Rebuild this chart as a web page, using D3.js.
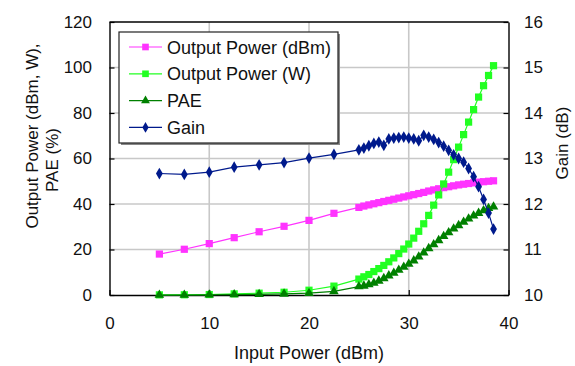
<!DOCTYPE html>
<html>
<head>
<meta charset="utf-8">
<script src="https://cdn.jsdelivr.net/npm/d3@7"></script>
<style>
  html, body { margin: 0; padding: 0; background: #fff; }
  svg { display: block; font-family: "Liberation Sans", Arial, Helvetica, sans-serif; }
</style>
</head>
<body>
<svg id="chart" width="575" height="366"></svg>
<script>
// Input drive levels (dBm)
const inputPower = [5, 7.5, 10, 12.5, 15, 17.5, 20, 22.5, 25,
  25.5, 26, 26.5, 27, 27.5, 28, 28.5, 29, 29.5, 30, 30.5, 31, 31.5, 32,
  32.5, 33, 33.5, 34, 34.5, 35, 35.5, 36, 36.5, 37, 37.5, 38, 38.5];

// Output power in dBm
const outputDbm = [18.0, 20.1, 22.6, 25.2, 27.8, 30.2, 32.8, 35.9, 38.5,
  39.1, 39.6, 40.1, 40.6, 41.1, 41.6, 42.1, 42.6, 43.1, 43.6, 44.1, 44.6, 45.1, 45.7,
  46.2, 46.7, 47.2, 47.6, 48.0, 48.4, 48.7, 49.0, 49.3, 49.6, 49.8, 50.0, 50.2];

// Output power in watts
const outputW = [0.06, 0.1, 0.2, 0.5, 0.8, 1.2, 2.1, 3.9, 7.0,
  8.0, 9.0, 10.3, 11.6, 13.0, 14.6, 16.3, 18.2, 20.2, 22.4, 25.0, 28.0, 31.3, 35.0,
  39.5, 44.0, 48.8, 54.0, 59.5, 65.0, 70.5, 76.0, 81.5, 87.0, 92.0, 96.5, 100.8];

// Power added efficiency (%)
const pae = [0.0, 0.0, 0.1, 0.2, 0.3, 0.5, 0.8, 1.6, 3.7,
  4.0, 4.6, 5.3, 6.2, 7.3, 8.5, 9.7, 11.0, 12.3, 13.6, 15.1, 16.8, 18.6, 20.5,
  22.2, 24.0, 25.8, 27.5, 29.1, 30.6, 32.1, 33.5, 34.8, 36.0, 37.1, 38.1, 38.8];

// Gain (dB), right axis
const gain = [12.67, 12.65, 12.70, 12.81, 12.86, 12.91, 13.01, 13.09, 13.19,
  13.23, 13.28, 13.33, 13.36, 13.29, 13.43, 13.45, 13.46, 13.47, 13.45, 13.43, 13.39, 13.51, 13.47,
  13.42, 13.35, 13.27, 13.18, 13.08, 13.00, 12.92, 12.78, 12.60, 12.38, 12.10, 11.80, 11.45];

const xTicks = [0, 10, 20, 30, 40];
const leftTicks = [0, 20, 40, 60, 80, 100, 120];
const rightTicks = [10, 11, 12, 13, 14, 15, 16];

const seriesNames = ["Output Power (dBm)", "Output Power (W)", "PAE", "Gain"];

const svg = d3.select("#chart");
const plot = { left: 109.5, right: 508.5, top: 22, bottom: 295 };
const W = plot.right - plot.left, H = plot.bottom - plot.top;

const x = d3.scaleLinear().domain([0, 40]).range([0, W]);
const yL = d3.scaleLinear().domain([0, 120]).range([H, 0]);
const yR = d3.scaleLinear().domain([10, 16]).range([H, 0]);

const g = svg.append("g").attr("transform", `translate(${plot.left},${plot.top})`);

// grid
const grid = g.append("g").attr("stroke", "#c8c8c8").attr("stroke-width", 1.6);
grid.selectAll("line.v").data(xTicks.slice(1, -1)).join("line")
  .attr("x1", d => x(d)).attr("x2", d => x(d)).attr("y1", 0).attr("y2", H);
grid.selectAll("line.h").data(leftTicks.slice(1, -1)).join("line")
  .attr("x1", 0).attr("x2", W).attr("y1", d => yL(d)).attr("y2", d => yL(d));

// axes
const fontSize = 17;
const ax = g.append("g").attr("transform", `translate(0,${H})`)
  .call(d3.axisBottom(x).tickValues(xTicks).tickSizeInner(-5).tickSizeOuter(0).tickPadding(22).tickFormat(d3.format("d")));
const al = g.append("g")
  .call(d3.axisLeft(yL).tickValues(leftTicks).tickSizeInner(-5).tickSizeOuter(0).tickPadding(17.5).tickFormat(d3.format("d")));
const ar = g.append("g").attr("transform", `translate(${W},0)`)
  .call(d3.axisRight(yR).tickValues(rightTicks).tickSizeInner(-5).tickSizeOuter(0).tickPadding(15.5).tickFormat(d3.format("d")));
[ax, al, ar].forEach(a => {
  a.selectAll("path.domain").attr("stroke", "#000").attr("stroke-width", 1.4);
  a.selectAll(".tick line").attr("stroke", "#000").attr("stroke-width", 1.2);
  a.selectAll(".tick text").attr("font-size", fontSize).attr("fill", "#111")
    .attr("font-family", "'Liberation Sans', Arial, sans-serif");
});
// top border of the plot frame
g.append("line").attr("x1", 0).attr("x2", W).attr("y1", 0).attr("y2", 0)
  .attr("stroke", "#000").attr("stroke-width", 1.4);

// series definitions
const colors = { dbm: "#ff33ff", w: "#22ff22", pae: "#008000", gain: "#001a8c" };
const series = [
  { key: "dbm", values: outputDbm, y: yL, color: colors.dbm, shape: d3.symbolSquare, size: 52 },
  { key: "w", values: outputW, y: yL, color: colors.w, shape: d3.symbolSquare, size: 52 },
  { key: "pae", values: pae, y: yL, color: colors.pae, shape: d3.symbolTriangle, size: 40 },
  { key: "gain", values: gain, y: yR, color: colors.gain, shape: d3.symbolDiamond, size: 40 }
];

series.forEach(s => {
  const pts = inputPower.map((xv, i) => [xv, s.values[i]]);
  const line = d3.line().x(d => x(d[0])).y(d => s.y(d[1]));
  const sg = g.append("g").attr("class", "series-" + s.key);
  sg.append("path").datum(pts).attr("d", line)
    .attr("fill", "none").attr("stroke", s.color).attr("stroke-width", 1.2);
  sg.selectAll("path.m").data(pts).join("path").attr("class", "m")
    .attr("transform", d => `translate(${x(d[0])},${s.y(d[1])})`)
    .attr("d", d3.symbol().type(s.shape).size(s.size))
    .attr("fill", s.color);
});

// legend
const lg = svg.append("g").attr("transform", "translate(119,32)");
const lw = 219, lh = 111;
lg.append("rect").attr("x", 2).attr("y", 2).attr("width", lw).attr("height", lh).attr("fill", "#888");
lg.append("rect").attr("x", 0).attr("y", 0).attr("width", lw).attr("height", lh)
  .attr("fill", "#fff").attr("stroke", "#222").attr("stroke-width", 1.2);
const rows = lg.selectAll("g.row").data(series).join("g").attr("class", "row")
  .attr("transform", (d, i) => `translate(0,${15 + i * 26.8})`);
rows.append("line").attr("x1", 10).attr("x2", 43).attr("y1", 0).attr("y2", 0)
  .attr("stroke", d => d.color).attr("stroke-width", 1.2);
rows.append("path").attr("transform", "translate(26.5,0)")
  .attr("d", d => d3.symbol().type(d.shape).size(d.size * 0.85)())
  .attr("fill", d => d.color);
rows.append("text").attr("x", 48).attr("y", 6.5)
  .attr("font-size", 18).attr("fill", "#111")
  .text((d, i) => seriesNames[i]);

// axis titles
svg.append("text").attr("x", 309).attr("y", 359).attr("text-anchor", "middle")
  .attr("font-size", 18).attr("fill", "#111").text("Input Power (dBm)");
svg.append("text").attr("transform", "translate(38,136) rotate(-90)").attr("text-anchor", "middle")
  .attr("font-size", fontSize).attr("fill", "#111").text("Output Power (dBm, W),");
svg.append("text").attr("transform", "translate(58,160) rotate(-90)").attr("text-anchor", "middle")
  .attr("font-size", fontSize).attr("fill", "#111").text("PAE (%)");
svg.append("text").attr("transform", "translate(568,143) rotate(-90)").attr("text-anchor", "middle")
  .attr("font-size", fontSize).attr("fill", "#111").text("Gain (dB)");
</script>
</body>
</html>
